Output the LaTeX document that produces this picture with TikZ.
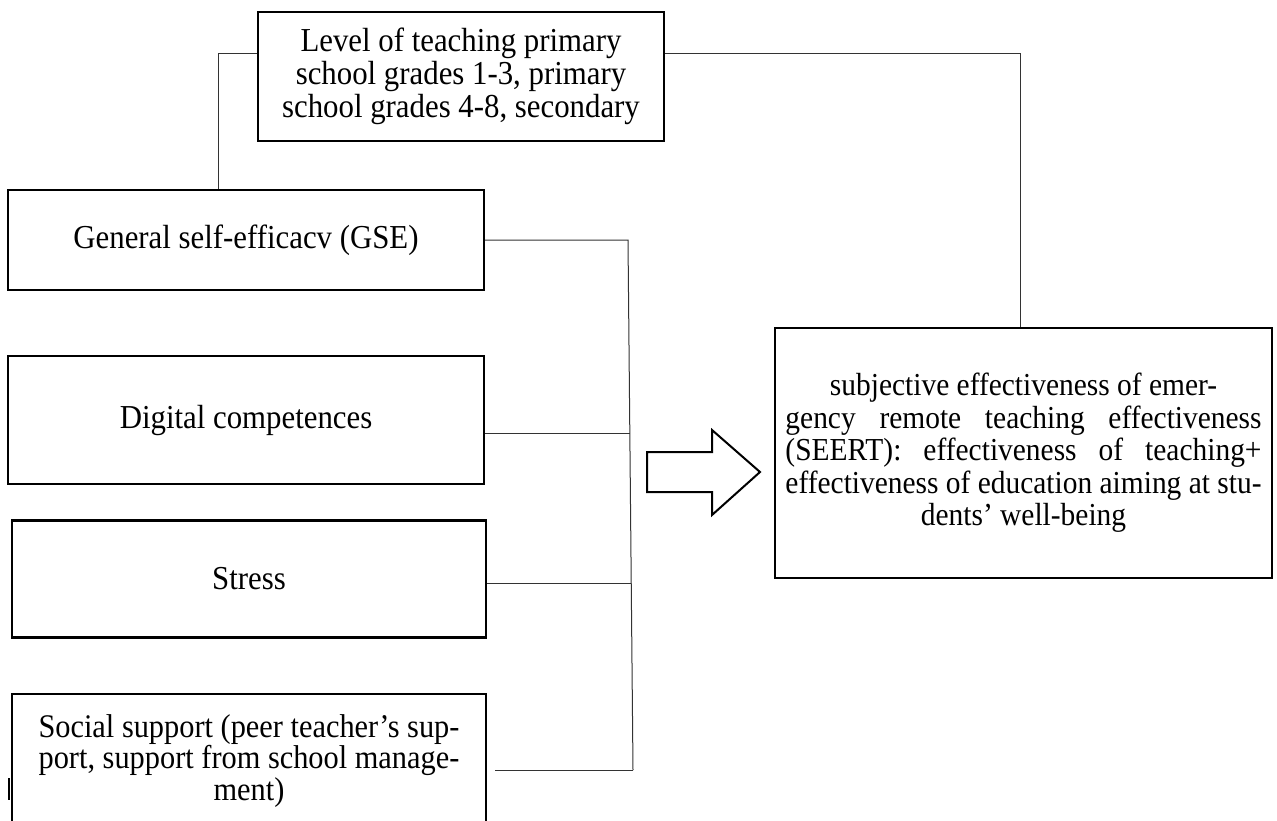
\documentclass[tikz,border=0pt]{standalone}
\usepackage{fontspec}
\setmainfont{Liberation Serif}[FakeStretch=0.92]
\newlength\rlinew
\begin{document}
\begin{tikzpicture}[x=1pt,y=-1pt,
  box/.style={draw=black,line width=2.4pt,rectangle,align=center,inner sep=2pt,
    font=\fontsize{33.5}{33}\selectfont},
  conn/.style={draw=black!80,line width=1pt}]
\useasboundingbox (0,0) rectangle (1277,820);
\clip (0,0) rectangle (1277,820);
\fill[white] (0,0) rectangle (1277,820);
\node[box,minimum width=406pt,minimum height=129pt] (top) at (461,76.5)
  {Level of teaching primary\\school grades 1-3, primary\\school grades 4-8, secondary};
\node[box,minimum width=476pt,minimum height=100pt] (gse) at (246,240)
  {General self-efficacv (GSE)};
\node[box,minimum width=476pt,minimum height=128pt] (dig) at (246,420)
  {Digital competences};
\node[box,minimum width=474pt,minimum height=117pt] (str) at (249,579)
  {Stress};
\node[box,minimum width=474pt,minimum height=134pt,font=\fontsize{33}{31.5}\selectfont] (soc) at (249,761)
  {Social support (peer teacher's sup-\\port, support from school manage-\\ment)};
\node[box,minimum width=497pt,minimum height=250pt,font=\fontsize{32}{32.5}\selectfont] (res) at (1023.5,453)
  {\global\setbox1=\hbox{effectiveness of education aiming at stu-}%
   \global\rlinew=\wd1
   subjective effectiveness of emer-\\
   \makebox[\rlinew][s]{gency remote teaching effectiveness}\\
   \makebox[\rlinew][s]{(SEERT): effectiveness of teaching+}\\
   effectiveness of education aiming at stu-\\
   dents' well-being};
% connectors
\coordinate (tl) at (218,53);
\coordinate (tr) at (1020,53);
\draw[conn] (tl -| top.west) -- (tl) -- (tl |- gse.north);
\draw[conn] (tr -| top.east) -- (tr) -- (tr |- res.north);
\coordinate (b1) at (628,240);
\coordinate (b2) at (630,433);
\coordinate (b3) at (631,583);
\coordinate (b4) at (633,770);
\coordinate (s4) at (495,770);
\draw[conn] (gse.east) -- (b1) -- (b4);
\draw[conn] (b2 -| dig.east) -- (b2);
\draw[conn] (b3 -| str.east) -- (b3);
\draw[conn] (s4) -- (b4);
% small mark at the left of the social support box
\draw[line width=2pt] (9,778) -- (9,800);
% block arrow
\draw[line width=2pt,line join=miter] (647,452) -- (712,452) -- (712,430) -- (760,472)
  -- (712,515) -- (712,492) -- (647,492) -- cycle;
\end{tikzpicture}
\end{document}
